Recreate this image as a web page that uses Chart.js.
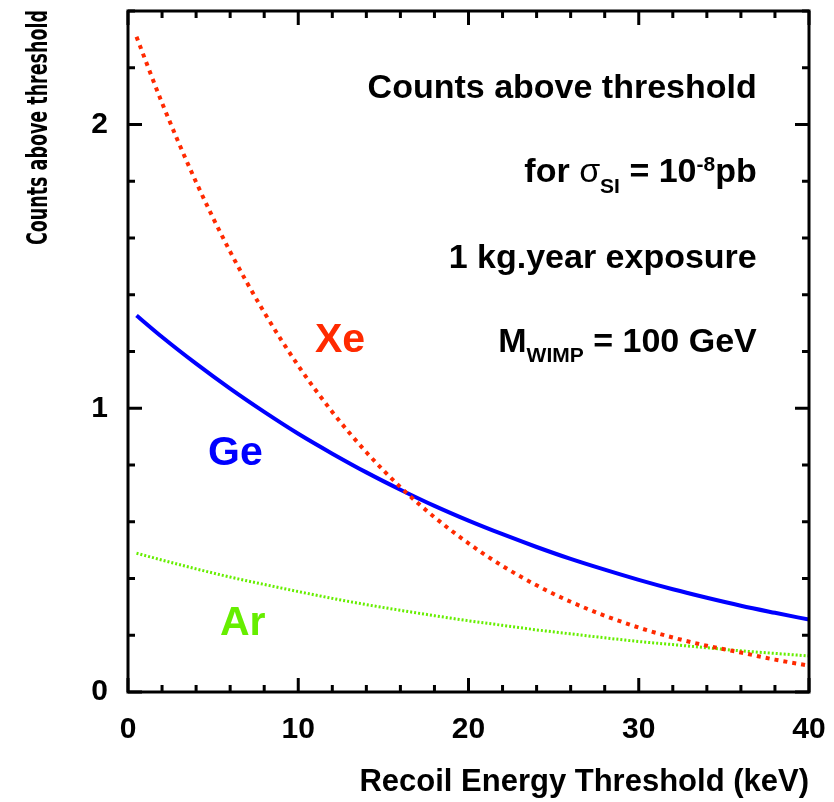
<!DOCTYPE html>
<html>
<head>
<meta charset="utf-8">
<script src="https://cdn.jsdelivr.net/npm/chart.js@4"></script>
<style>
  html, body { margin: 0; padding: 0; background: #fff; }
  canvas { display: block; }
</style>
</head>
<body>
<canvas id="chart" width="834" height="802"></canvas>
<script>
// recoil energy threshold (keV)
const energy = [0.5, 2, 4, 6, 8, 10, 12, 14, 16, 18, 20, 22, 24, 26, 28, 30, 32, 34, 36, 38, 40];
// counts above threshold
const xenon = [2.309, 2.076, 1.797, 1.552, 1.338, 1.150, 0.987, 0.845, 0.722, 0.616, 0.524, 0.444, 0.376, 0.318, 0.269, 0.227, 0.192, 0.163, 0.139, 0.114, 0.093];
const germanium = [1.327, 1.251, 1.157, 1.069, 0.987, 0.910, 0.840, 0.774, 0.713, 0.656, 0.604, 0.556, 0.511, 0.469, 0.431, 0.395, 0.362, 0.332, 0.304, 0.279, 0.255];
const argon = [0.489, 0.465, 0.434, 0.405, 0.379, 0.354, 0.330, 0.308, 0.288, 0.269, 0.251, 0.235, 0.219, 0.205, 0.191, 0.178, 0.167, 0.156, 0.145, 0.136, 0.127];

const xTicks = [0, 10, 20, 30, 40];
const yTicks = [0, 1, 2];

const FONT = "'Liberation Sans', Arial, Helvetica, sans-serif";
const RED = '#ff2a00';
const BLUE = '#0000ff';
const GREEN = '#66ee00';

// element labels in data coordinates
const elementLabels = [
  { text: 'Xe', x: 10.98, y: 1.197, color: RED },
  { text: 'Ge', x: 4.7, y: 0.80, color: BLUE },
  { text: 'Ar', x: 5.4, y: 0.20, color: GREEN }
];

const toPoints = arr => energy.map((e, i) => ({ x: e, y: arr[i] }));

// рисуем текст с индексами, выравнивая по правому краю
function drawRich(ctx, parts, right, base) {
  let total = 0;
  parts.forEach(p => {
    ctx.font = (p.w || 'bold') + ' ' + p.s + 'px ' + FONT;
    p.width = ctx.measureText(p.t).width;
    total += p.width;
  });
  let x = right - total;
  parts.forEach(p => {
    ctx.font = (p.w || 'bold') + ' ' + p.s + 'px ' + FONT;
    ctx.fillText(p.t, x, base + (p.dy || 0));
    x += p.width;
  });
}

const framePlugin = {
  id: 'frame',
  afterDraw(chart) {
    const { ctx, chartArea: a, scales } = chart;
    const xs = scales.x, ys = scales.y;
    ctx.save();
    ctx.strokeStyle = '#000';
    ctx.lineWidth = 3;
    ctx.strokeRect(a.left, a.top, a.right - a.left, a.bottom - a.top);

    // засечки внутрь по всем сторонам
    ctx.beginPath();
    for (let v = 0; v <= 40; v += 2) {
      const px = xs.getPixelForValue(v);
      const len = v % 10 === 0 ? 14 : 7;
      ctx.moveTo(px, a.bottom); ctx.lineTo(px, a.bottom - len);
      ctx.moveTo(px, a.top); ctx.lineTo(px, a.top + len);
    }
    for (let i = 0; i <= 12; i++) {
      const py = ys.getPixelForValue(i * 0.2);
      const len = i % 5 === 0 ? 14 : 7;
      ctx.moveTo(a.left, py); ctx.lineTo(a.left + len, py);
      ctx.moveTo(a.right, py); ctx.lineTo(a.right - len, py);
    }
    ctx.stroke();

    // y axis title, narrow lettering
    ctx.fillStyle = '#000';
    ctx.save();
    ctx.font = "bold 28px 'DejaVu Sans Condensed', " + FONT;
    const yTitle = 'Counts above threshold';
    const k = 235 / ctx.measureText(yTitle).width;
    ctx.translate(47, 10);
    ctx.rotate(-Math.PI / 2);
    ctx.scale(k, 1);
    ctx.textAlign = 'right';
    ctx.textBaseline = 'alphabetic';
    ctx.fillText(yTitle, 0, 0);
    ctx.restore();

    // annotation block
    ctx.textAlign = 'left';
    ctx.textBaseline = 'alphabetic';
    const right = xs.getPixelForValue(36.93);
    drawRich(ctx, [{ t: 'Counts above threshold', s: 34 }], right, ys.getPixelForValue(2.095));
    drawRich(ctx, [
      { t: 'for ', s: 34 },
      { t: 'σ', s: 34, w: 'normal' },
      { t: 'SI', s: 21, dy: 11 },
      { t: ' = 10', s: 34 },
      { t: '-8', s: 21, dy: -11 },
      { t: 'pb', s: 34 }
    ], right, ys.getPixelForValue(1.796));
    drawRich(ctx, [{ t: '1 kg.year exposure', s: 34 }], right, ys.getPixelForValue(1.496));
    drawRich(ctx, [
      { t: 'M', s: 34 },
      { t: 'WIMP', s: 21, dy: 10 },
      { t: ' = 100 GeV', s: 34 }
    ], right, ys.getPixelForValue(1.197));

    // element labels
    ctx.font = 'bold 41px ' + FONT;
    elementLabels.forEach(l => {
      ctx.fillStyle = l.color;
      ctx.fillText(l.text, xs.getPixelForValue(l.x), ys.getPixelForValue(l.y));
    });
    ctx.restore();
  }
};

const noPad = s => { s.paddingTop = 0; s.paddingBottom = 0; s.paddingLeft = 0; s.paddingRight = 0; };

const ctx = document.getElementById('chart').getContext('2d');
new Chart(ctx, {
  type: 'line',
  data: {
    datasets: [
      {
        label: 'Xe',
        data: toPoints(xenon),
        borderColor: RED,
        borderWidth: 4,
        borderDash: [4, 5],
        pointRadius: 0,
        cubicInterpolationMode: 'monotone',
        order: 1
      },
      {
        label: 'Ge',
        data: toPoints(germanium),
        borderColor: BLUE,
        borderWidth: 4,
        pointRadius: 0,
        cubicInterpolationMode: 'monotone',
        order: 2
      },
      {
        label: 'Ar',
        data: toPoints(argon),
        borderColor: GREEN,
        borderWidth: 3,
        borderDash: [2, 2],
        pointRadius: 0,
        cubicInterpolationMode: 'monotone',
        order: 3
      }
    ]
  },
  options: {
    responsive: false,
    devicePixelRatio: 1,
    animation: false,
    layout: { padding: { top: 11, right: 25, left: 0, bottom: 0 } },
    plugins: {
      legend: { display: false },
      tooltip: { enabled: false }
    },
    scales: {
      x: {
        type: 'linear',
        min: 0,
        max: 40,
        afterFit: s => { s.height = 110; noPad(s); },
        afterBuildTicks: s => { s.ticks = xTicks.map(v => ({ value: v })); },
        grid: { display: false, drawTicks: false },
        border: { display: false },
        ticks: {
          color: '#000',
          padding: 20,
          maxRotation: 0,
          font: { family: FONT, size: 30, weight: 'bold' }
        },
        title: {
          display: true,
          text: 'Recoil Energy Threshold (keV)',
          align: 'end',
          color: '#000',
          padding: { top: 0, bottom: 1 },
          font: { family: FONT, size: 31, weight: 'bold' }
        }
      },
      y: {
        type: 'linear',
        min: 0,
        max: 2.4,
        afterFit: s => { s.width = 128; noPad(s); },
        afterBuildTicks: s => { s.ticks = yTicks.map(v => ({ value: v })); },
        grid: { display: false, drawTicks: false },
        border: { display: false },
        ticks: {
          color: '#000',
          padding: 20,
          font: { family: FONT, size: 30, weight: 'bold' }
        }
      }
    }
  },
  plugins: [framePlugin]
});
</script>
</body>
</html>
